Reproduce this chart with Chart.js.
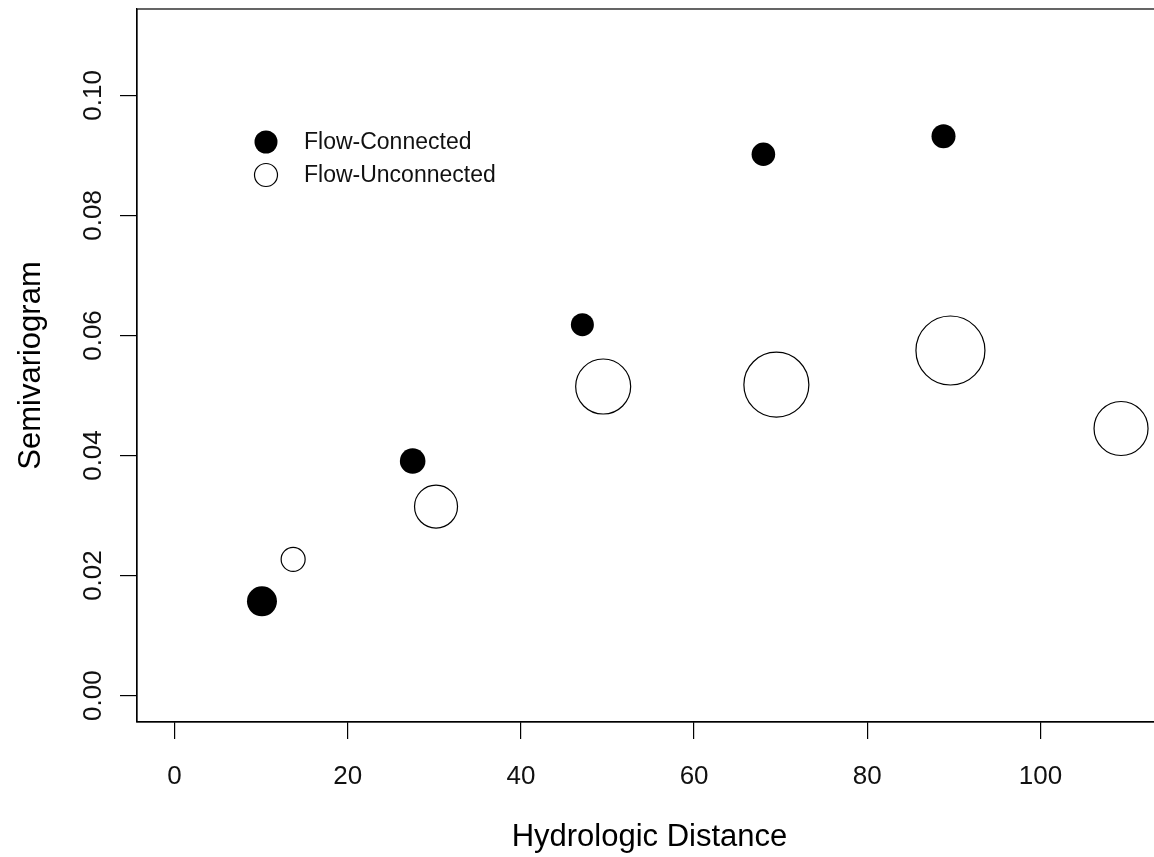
<!DOCTYPE html>
<html>
<head>
<meta charset="utf-8">
<title>Semivariogram</title>
<script src="https://cdn.jsdelivr.net/npm/chart.js@4.4.0/dist/chart.umd.min.js"></script>
<style>
  html, body { margin: 0; padding: 0; background: #fff; overflow: hidden; }
  #wrap { width: 1170px; height: 857px; }
</style>
</head>
<body>
<div id="wrap"><canvas id="chart" width="1170" height="857"></canvas></div>
<script>
// Semivariogram values
const connDist = [10.1, 27.5, 47.1, 68.0, 88.8];
const connGamma = [0.0157, 0.0391, 0.0618, 0.0902, 0.0932];
const connCex = [1.5, 1.28, 1.15, 1.18, 1.2];

const unconnDist = [13.7, 30.2, 49.5, 69.5, 89.6, 109.3];
const unconnGamma = [0.0227, 0.0315, 0.0515, 0.0518, 0.0575, 0.0445];
const unconnCex = [1.25, 2.2, 2.8, 3.3, 3.5, 2.75];

const seriesNames = ['Flow-Connected', 'Flow-Unconnected'];
const xTicks = [0, 20, 40, 60, 80, 100];
const yTicks = [0, 0.02, 0.04, 0.06, 0.08, 0.10];

const FONT = '"Liberation Sans", Arial, sans-serif';
const CEX_PX = 10;

function toBubbles(xs, ys, cex, shrink) {
    return xs.map((x, i) => ({ x: x, y: ys[i], r: cex[i] * CEX_PX - shrink }));
}

// box round the plotting region, like R's box()
const boxPlugin = {
    id: 'plotBox',
    afterDraw(chart) {
        const a = chart.chartArea;
        const ctx = chart.ctx;
        ctx.save();
        ctx.strokeStyle = '#000';
        ctx.lineWidth = 1.2;
        ctx.strokeRect(a.left, a.top, a.right - a.left, a.bottom - a.top);
        ctx.restore();
    }
};

// legend drawn inside the plot, top left
const innerLegend = {
    id: 'innerLegend',
    afterDraw(chart) {
        const ctx = chart.ctx;
        ctx.save();
        ctx.font = '23px ' + FONT;
        ctx.textBaseline = 'middle';
        chart.data.datasets.forEach((ds, i) => {
            const cy = 142 + i * 33;
            ctx.beginPath();
            ctx.arc(266, cy, 11.5, 0, Math.PI * 2);
            if (i === 0) {
                ctx.fillStyle = '#000';
                ctx.fill();
            } else {
                ctx.strokeStyle = '#000';
                ctx.lineWidth = 1.2;
                ctx.stroke();
            }
            ctx.fillStyle = '#111';
            ctx.fillText(ds.label, 304, cy + 1);
        });
        ctx.restore();
    }
};

new Chart(document.getElementById('chart'), {
    type: 'bubble',
    data: {
        datasets: [
            {
                label: seriesNames[0],
                data: toBubbles(connDist, connGamma, connCex, 0),
                backgroundColor: '#000',
                borderColor: '#000',
                borderWidth: 0
            },
            {
                label: seriesNames[1],
                data: toBubbles(unconnDist, unconnGamma, unconnCex, 0.5),
                backgroundColor: 'rgba(255,255,255,0)',
                borderColor: '#000',
                borderWidth: 1.2
            }
        ]
    },
    options: {
        responsive: false,
        animation: false,
        events: [],
        layout: { autoPadding: false, padding: { top: 9, right: 8, left: 0, bottom: 0 } },
        plugins: {
            legend: { display: false },
            tooltip: { enabled: false }
        },
        scales: {
            x: {
                type: 'linear',
                min: -4.33,
                max: 114.03,
                afterBuildTicks: s => { s.ticks = xTicks.map(v => ({ value: v })); },
                afterFit: s => { s.height = 135; s.paddingLeft = 0; s.paddingRight = 0; },
                ticks: {
                    font: { family: FONT, size: 26 },
                    color: '#111',
                    padding: 22,
                    maxRotation: 0,
                    autoSkip: false,
                    callback: v => String(v)
                },
                grid: { drawOnChartArea: false, drawTicks: true, tickLength: 17, color: '#000', lineWidth: 1.2 },
                border: { display: true, color: '#000', width: 1.2 },
                title: {
                    display: true,
                    text: 'Hydrologic Distance',
                    font: { family: FONT, size: 31 },
                    color: '#000',
                    padding: { top: 0, bottom: 1 }
                }
            },
            y: {
                type: 'linear',
                min: -0.0044,
                max: 0.1144,
                afterBuildTicks: s => { s.ticks = yTicks.map(v => ({ value: v })); },
                afterFit: s => { s.width = 137; s.paddingTop = 0; s.paddingBottom = 0; },
                ticks: {
                    font: { family: FONT, size: 26 },
                    color: '#111',
                    padding: 1,
                    minRotation: 90,
                    maxRotation: 90,
                    crossAlign: 'center',
                    autoSkip: false,
                    callback: v => v.toFixed(2)
                },
                grid: { drawOnChartArea: false, drawTicks: true, tickLength: 17, color: '#000', lineWidth: 1.2 },
                border: { display: true, color: '#000', width: 1.2 },
                title: {
                    display: true,
                    text: 'Semivariogram',
                    font: { family: FONT, size: 31 },
                    color: '#000',
                    padding: { top: 13, bottom: 0 }
                }
            }
        }
    },
    plugins: [boxPlugin, innerLegend]
});
</script>
</body>
</html>
